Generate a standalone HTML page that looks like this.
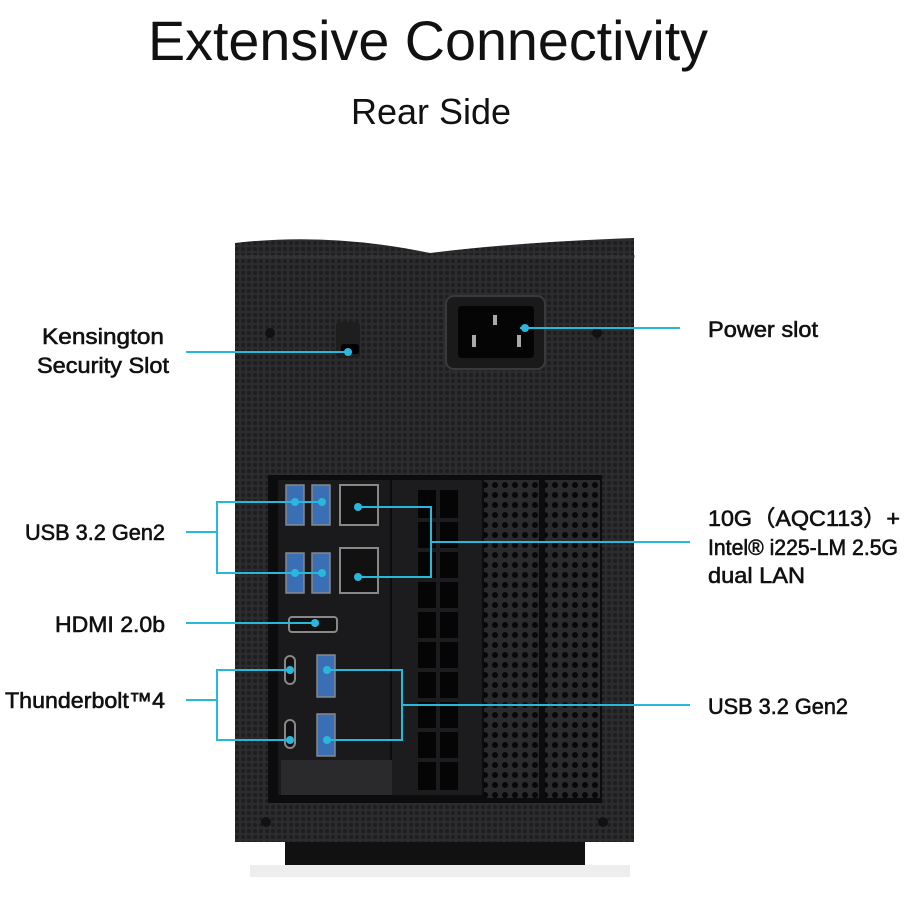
<!DOCTYPE html>
<html><head><meta charset="utf-8"><style>
html,body{margin:0;padding:0;background:#fff;}
body{width:914px;height:912px;overflow:hidden;position:relative;font-family:"Liberation Sans",sans-serif;}
</style></head><body>
<svg width="914" height="912" viewBox="0 0 914 912" xmlns="http://www.w3.org/2000/svg">
<defs>
<pattern id="hex" width="6" height="6" patternUnits="userSpaceOnUse">
<rect width="6" height="6" fill="#2c2c2e"/><circle cx="3" cy="3" r="2" fill="#1e1e20"/>
</pattern>
<pattern id="holes" width="10" height="10" patternUnits="userSpaceOnUse">
<rect width="10" height="10" fill="#2a2a2c"/><circle cx="5" cy="5" r="3" fill="#070707"/>
</pattern>
</defs>
<text x="428" y="60" text-anchor="middle" font-size="56" fill="#111" textLength="560" lengthAdjust="spacingAndGlyphs">Extensive Connectivity</text>
<text x="431" y="124" text-anchor="middle" font-size="36" fill="#111">Rear Side</text>

<rect x="285" y="835" width="300" height="30" fill="#111"/>
<rect x="250" y="865" width="380" height="12" fill="#eee"/>
<path d="M235 243 Q330 232 430 253 Q520 242 634 238 L634 842 L235 842 Z" fill="url(#hex)"/>
<rect x="235" y="255" width="400" height="3" fill="#444" opacity=".4"/>
<rect x="446" y="296" width="99" height="73" rx="8" fill="#1a1a1a" stroke="#3a3a3a" stroke-width="2"/>
<rect x="458" y="306" width="76" height="52" rx="4" fill="#050505"/>
<rect x="493" y="315" width="4" height="10" fill="#aaa"/>
<rect x="472" y="335" width="4" height="12" fill="#aaa"/>
<rect x="517" y="335" width="4" height="12" fill="#aaa"/>
<rect x="336" y="322" width="24" height="36" rx="4" fill="#1e1e1e"/>
<rect x="341" y="344" width="18" height="10" rx="3" fill="#000"/>
<circle cx="270" cy="333" r="5" fill="#111"/><circle cx="597" cy="333" r="5" fill="#111"/>
<rect x="268" y="475" width="334" height="328" fill="#0c0c0c"/>
<rect x="278" y="480" width="112" height="315" fill="#1a1a1c"/>
<rect x="281" y="760" width="112" height="35" fill="#2a2a2c"/>
<rect x="392" y="480" width="90" height="315" fill="#1c1c1e"/>
<rect x="418" y="490" width="40" height="300" fill="#050505"/>
<g stroke="#1c1c1e" stroke-width="4">
<line x1="438" y1="490" x2="438" y2="790"/>
<line x1="418" y1="520" x2="458" y2="520"/><line x1="418" y1="550" x2="458" y2="550"/>
<line x1="418" y1="580" x2="458" y2="580"/><line x1="418" y1="610" x2="458" y2="610"/>
<line x1="418" y1="640" x2="458" y2="640"/><line x1="418" y1="670" x2="458" y2="670"/>
<line x1="418" y1="700" x2="458" y2="700"/><line x1="418" y1="730" x2="458" y2="730"/>
<line x1="418" y1="760" x2="458" y2="760"/></g>
<rect x="484" y="480" width="55" height="318" fill="url(#holes)"/>
<rect x="545" y="480" width="55" height="318" fill="url(#holes)"/>
<rect x="268" y="803" width="334" height="35" fill="url(#hex)"/>
<circle cx="266" cy="822" r="5" fill="#111"/><circle cx="603" cy="822" r="5" fill="#111"/>
<g fill="#3a6fb5" stroke="#888" stroke-width="1.5">
<rect x="286" y="485" width="18" height="40"/><rect x="312" y="485" width="18" height="40"/>
<rect x="286" y="553" width="18" height="40"/><rect x="312" y="553" width="18" height="40"/>
<rect x="317" y="655" width="18" height="42"/><rect x="317" y="714" width="18" height="42"/>
</g>
<g fill="#111" stroke="#888" stroke-width="2">
<rect x="340" y="485" width="38" height="40"/><rect x="340" y="548" width="38" height="45"/>
<rect x="289" y="617" width="48" height="15" rx="3"/>
<rect x="285" y="656" width="10" height="28" rx="5"/><rect x="285" y="720" width="10" height="28" rx="5"/>
</g>
<g stroke="#29b8dc" stroke-width="2" fill="none">
<line x1="186" y1="352" x2="348" y2="352"/>
<line x1="520" y1="328" x2="680" y2="328"/>
<polyline points="322,502 217,502 217,573 322,573"/><line x1="186" y1="532" x2="217" y2="532"/>
<polyline points="358,507 431,507 431,577 358,577"/><line x1="431" y1="542" x2="690" y2="542"/>
<line x1="186" y1="623" x2="315" y2="623"/>
<polyline points="290,670 217,670 217,740 290,740"/><line x1="186" y1="700" x2="217" y2="700"/>
<polyline points="327,670 402,670 402,740 327,740"/><line x1="402" y1="705" x2="690" y2="705"/>
</g>
<g fill="#29b8dc">
<circle cx="348" cy="352" r="4"/><circle cx="525" cy="328" r="4"/>
<circle cx="295" cy="502" r="4"/><circle cx="322" cy="502" r="4"/>
<circle cx="295" cy="573" r="4"/><circle cx="322" cy="573" r="4"/>
<circle cx="358" cy="507" r="4"/><circle cx="358" cy="577" r="4"/>
<circle cx="315" cy="623" r="4"/><circle cx="290" cy="670" r="4"/><circle cx="290" cy="740" r="4"/>
<circle cx="327" cy="670" r="4"/><circle cx="327" cy="740" r="4"/>
</g>
<g font-size="22" fill="#111" stroke="#111" stroke-width="0.6" text-anchor="end">
<text x="164" y="344" textLength="122" lengthAdjust="spacingAndGlyphs">Kensington</text>
<text x="169" y="373" textLength="132" lengthAdjust="spacingAndGlyphs">Security Slot</text>
<text x="165" y="540" textLength="140" lengthAdjust="spacingAndGlyphs">USB 3.2 Gen2</text>
<text x="165" y="632" textLength="110" lengthAdjust="spacingAndGlyphs">HDMI 2.0b</text>
<text x="165" y="708" textLength="160" lengthAdjust="spacingAndGlyphs">Thunderbolt™4</text>
</g>
<g font-size="22" fill="#111" stroke="#111" stroke-width="0.6">
<text x="708" y="337" textLength="110" lengthAdjust="spacingAndGlyphs">Power slot</text>
<text x="708" y="526" textLength="192" lengthAdjust="spacingAndGlyphs">10G（AQC113）+</text>
<text x="708" y="555" textLength="190" lengthAdjust="spacingAndGlyphs">Intel® i225-LM 2.5G</text>
<text x="708" y="583" textLength="97" lengthAdjust="spacingAndGlyphs">dual LAN</text>
<text x="708" y="714" textLength="140" lengthAdjust="spacingAndGlyphs">USB 3.2 Gen2</text>
</g>
</svg>
</body></html>
